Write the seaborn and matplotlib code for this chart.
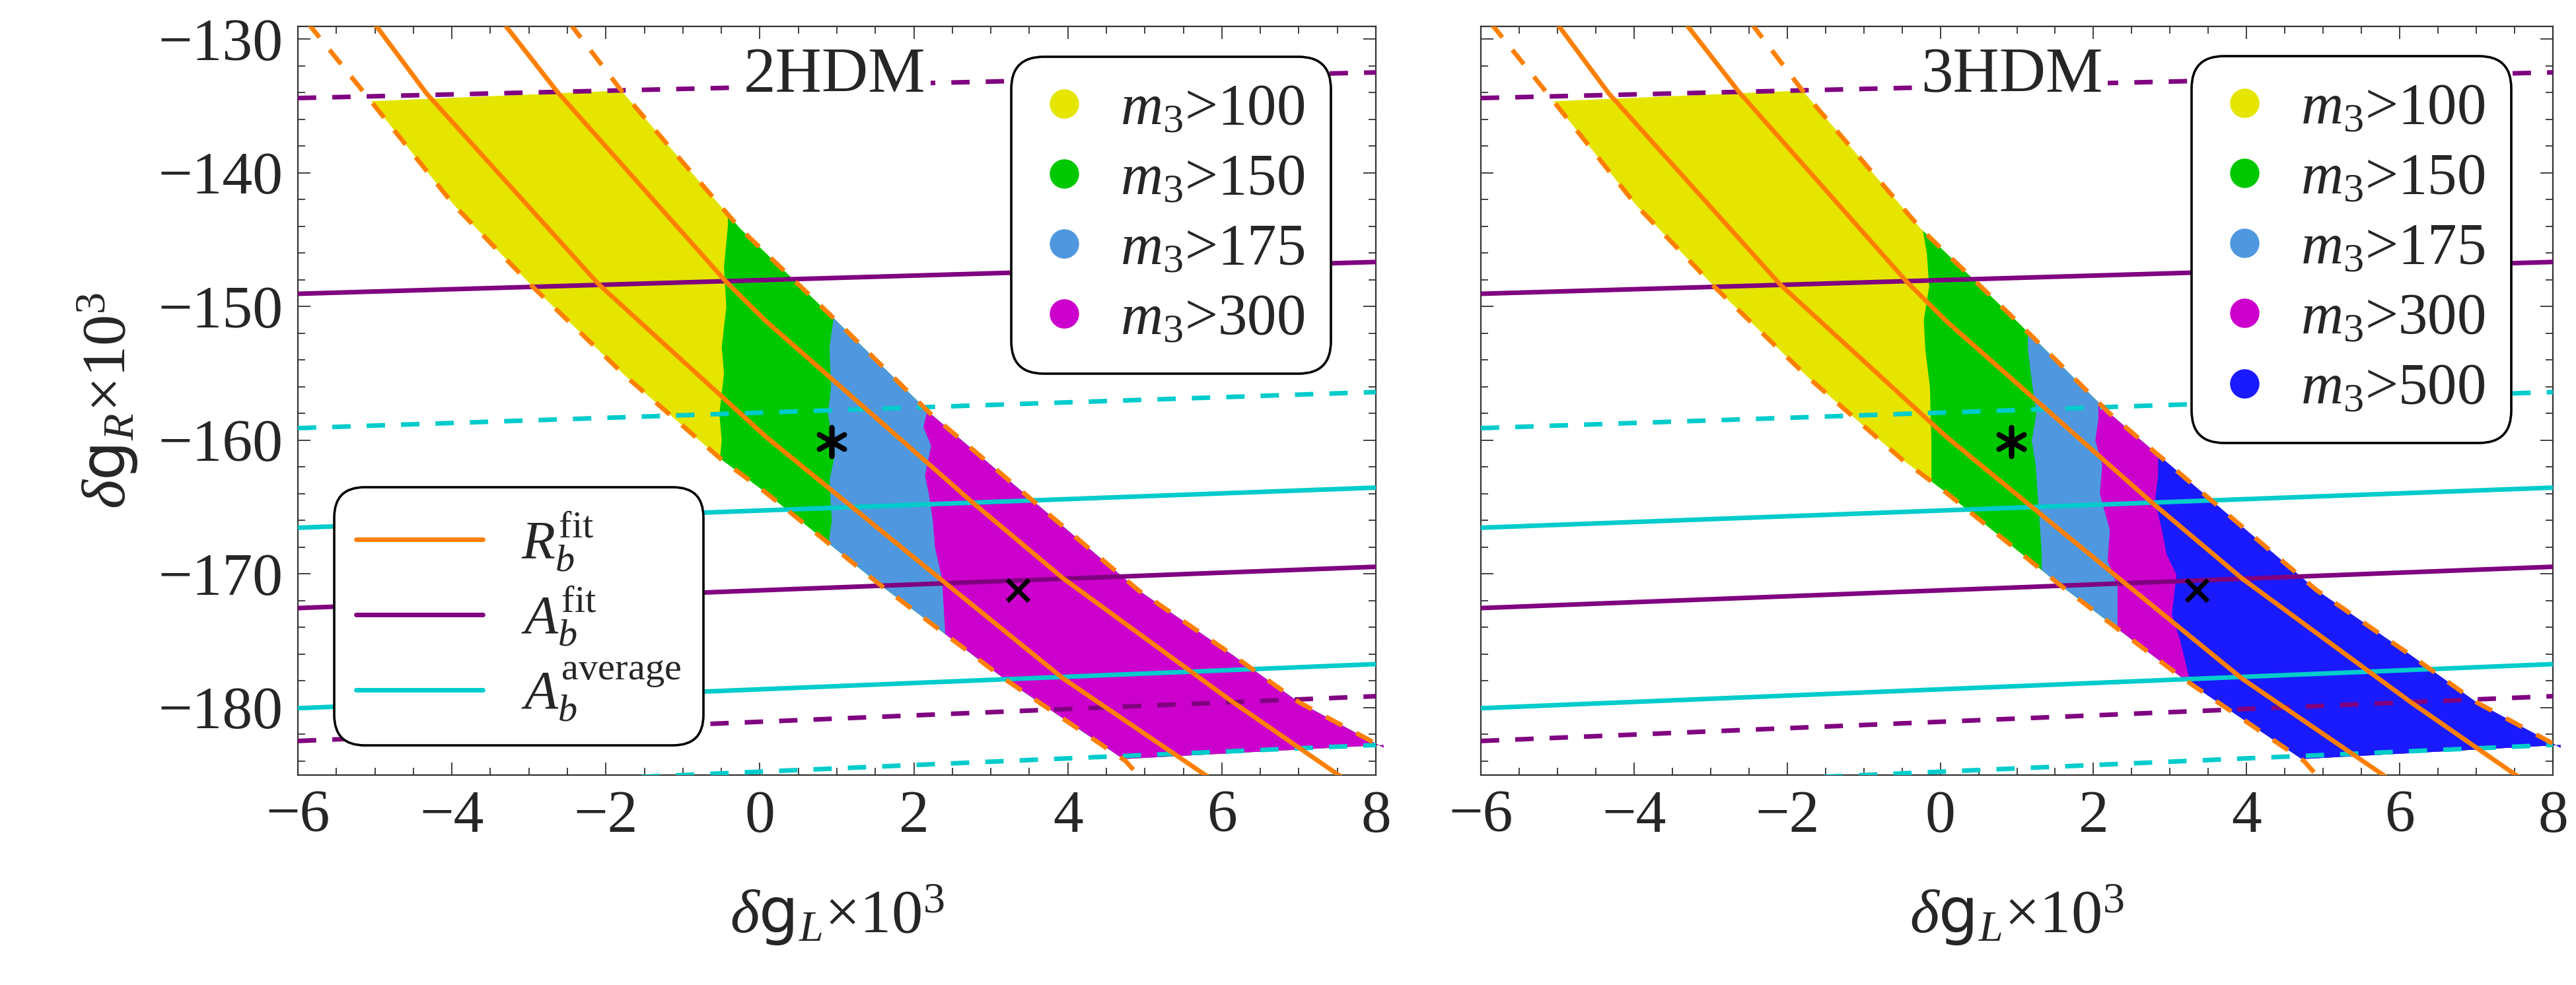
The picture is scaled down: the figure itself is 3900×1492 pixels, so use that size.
import numpy as np
import matplotlib
matplotlib.use("Agg")
import matplotlib.pyplot as plt
from matplotlib.patches import Polygon
from matplotlib.lines import Line2D
from matplotlib.ticker import MultipleLocator
import seaborn as sns

# ---------------- data ----------------
xlim = (-6, 8)
ylim = (-185.05, -129.05)

# straight constraint lines: values at x=-6 and x=8
line_x = [-6.0, 8.0]
ab_fit_solid_up = [-149.05, -146.67]
ab_fit_solid_lo = [-172.56, -169.47]
ab_fit_dash_up = [-134.41, -132.49]
ab_fit_dash_lo = [-182.5, -179.15]
ab_avg_solid_up = [-166.55, -163.55]
ab_avg_solid_lo = [-180.05, -176.75]
ab_avg_dash_up = [-159.1, -156.4]
ab_avg_dash_lo = [-186.3, -182.8]

# R_b curves
rb_dash_left_x = [-5.87, -5.05, -3.98, -2.94, -1.74, -0.50, 0.05, 1.55, 3.17, 4.75, 4.95]
rb_dash_left_y = [-128.8, -134.65, -142.37, -148.58, -155.23, -161.44, -163.8, -170.77, -177.83, -184.0, -185.3]
rb_solid_left_x = [-5.01, -4.33, -2.09, 0.08, 2.24, 3.94, 5.85]
rb_solid_left_y = [-128.8, -134.06, -148.36, -159.75, -169.9, -177.83, -185.3]
rb_solid_right_x = [-3.33, -2.63, -0.44, 0.08, 2.75, 3.94, 6.14, 7.58]
rb_solid_right_y = [-128.8, -133.95, -148.14, -151.1, -164.6, -170.34, -179.58, -185.3]
rb_dash_right_x = [-2.47, -1.80, -0.96, -0.26, 0.97, 2.21, 3.56, 4.91, 6.14, 7.0, 8.1]
rb_dash_right_y = [-128.8, -133.85, -139.49, -144.15, -150.94, -157.99, -164.6, -171.2, -176.07, -179.6, -183.0]

# allowed region outline (scan points)
band_x = [-5.05, -1.80, -0.96, -0.26, 0.97, 2.21, 3.56, 4.91, 6.14, 7.0, 8.1, 8.1, 4.72,
          3.17, 1.55, 0.05, -0.50, -1.74, -2.94, -3.98]
band_y = [-134.65, -133.85, -139.49, -144.15, -150.94, -157.99, -164.6, -171.2, -176.07, -179.6, -183.0, -182.8, -183.85,
          -177.83, -170.77, -163.8, -161.44, -155.23, -148.58, -142.37]

# m3 thresholds: left edge of each coloured sub-region (x) along y
hdm2_green_y = [-128, -144, -147, -150, -153, -155, -158, -160, -163, -166, -186]
hdm2_green_x = [-0.42, -0.42, -0.47, -0.44, -0.50, -0.47, -0.53, -0.50, -0.55, -0.50, -0.50]
hdm2_blue_y = [-128, -151, -153, -156, -158, -161, -163, -166, -168, -170, -186]
hdm2_blue_x = [0.95, 0.95, 0.90, 0.92, 0.88, 0.97, 0.90, 0.93, 0.88, 0.98, 0.98]
hdm2_mag_y = [-128, -157.8, -159, -160.4, -162.6, -164, -165.9, -168, -170.3, -174.1, -186]
hdm2_mag_x = [2.17, 2.17, 2.12, 2.22, 2.14, 2.19, 2.24, 2.27, 2.36, 2.40, 2.40]

hdm3_green_y = [-128, -143.7, -146, -148.5, -151, -153.2, -156, -160.3, -186]
hdm3_green_x = [-0.25, -0.25, -0.18, -0.15, -0.22, -0.20, -0.14, -0.12, -0.12]
hdm3_blue_y = [-128, -153.2, -156, -158.0, -160, -161.8, -165, -168.4, -186]
hdm3_blue_x = [1.14, 1.14, 1.20, 1.25, 1.19, 1.24, 1.28, 1.32, 1.32]
hdm3_mag_y = [-128, -158.4, -160, -161.8, -164, -166.7, -169, -170.9, -186]
hdm3_mag_x = [2.06, 2.06, 2.02, 2.11, 2.08, 2.21, 2.18, 2.31, 2.31]
hdm3_b500_y = [-128, -162.6, -164.5, -166.7, -168.5, -170.05, -173, -175.0, -178.3, -186]
hdm3_b500_x = [2.84, 2.84, 2.80, 2.89, 2.95, 3.08, 3.02, 3.13, 3.27, 3.27]

star_pt = (0.93, -160.1)
cross_pt = (3.35, -171.2)

labels_m3 = [r"$m_3$>100", r"$m_3$>150", r"$m_3$>175", r"$m_3$>300", r"$m_3$>500"]
labels_lines = [r"$R_b^{\mathrm{fit}}$", r"$A_b^{\mathrm{fit}}$", r"$A_b^{\mathrm{average}}$"]
xticks = [-6, -4, -2, 0, 2, 4, 6, 8]
yticks = [-180, -170, -160, -150, -140, -130]

# ---------------- style ----------------
C_YEL = "#E5E500"
C_GRN = "#00C800"
C_B175 = "#4F98E0"
C_MAG = "#CC00CC"
C_B500 = "#1A1AFF"
C_ORA = "#FF8000"
C_PUR = "#800080"
C_CYA = "#00CCCC"
LW = 5.0
DASH = (0, (4, 3.5))

sns.set_theme(style="ticks")
plt.rcParams["font.family"] = ["Liberation Serif", "DejaVu Serif"]
plt.rcParams["font.serif"] = ["Liberation Serif", "DejaVu Serif"]
plt.rcParams["mathtext.fontset"] = "custom"
plt.rcParams["mathtext.rm"] = "Liberation Serif"
plt.rcParams["mathtext.it"] = "Liberation Serif:italic"
plt.rcParams["mathtext.bf"] = "Liberation Serif:bold"
plt.rcParams["mathtext.sf"] = "DejaVu Sans"
plt.rcParams["axes.unicode_minus"] = True

W, H = 3900, 1492
fig = plt.figure(figsize=(W / 100, H / 100), dpi=100)
ax1 = fig.add_axes([451 / W, 1 - 1174 / H, (2083 - 451) / W, (1174 - 40) / H])
ax2 = fig.add_axes([2242 / W, 1 - 1174 / H, (3865 - 2242) / W, (1174 - 40) / H])

SERIF = ["Liberation Serif", "DejaVu Serif"]


def draw_panel(ax, regions):
    band = Polygon(np.column_stack([band_x, band_y]), closed=True,
                   transform=ax.transData, facecolor="none", edgecolor="none")
    ax.fill(band_x, band_y, color=C_YEL, lw=0, zorder=1)
    for by, bx, col in regions:
        coll = ax.fill_betweenx(by, bx, 9.0, color=col, lw=0, zorder=1)
        coll.set_clip_path(band)

    def ln(x, y, col, dashed):
        kw = dict(linestyle=DASH) if dashed else {}
        sns.lineplot(x=x, y=y, ax=ax, color=col, lw=LW, sort=False,
                     estimator=None, zorder=3, **kw)

    ln(line_x, ab_avg_dash_up, C_CYA, True)
    ln(line_x, ab_avg_dash_lo, C_CYA, True)
    ln(line_x, ab_avg_solid_up, C_CYA, False)
    ln(line_x, ab_avg_solid_lo, C_CYA, False)
    ln(line_x, ab_fit_dash_up, C_PUR, True)
    ln(line_x, ab_fit_dash_lo, C_PUR, True)
    ln(line_x, ab_fit_solid_up, C_PUR, False)
    ln(line_x, ab_fit_solid_lo, C_PUR, False)
    ln(rb_dash_left_x, rb_dash_left_y, C_ORA, True)
    ln(rb_dash_right_x, rb_dash_right_y, C_ORA, True)
    ln(rb_solid_left_x, rb_solid_left_y, C_ORA, False)
    ln(rb_solid_right_x, rb_solid_right_y, C_ORA, False)

    sns.scatterplot(x=[star_pt[0]], y=[star_pt[1]], ax=ax, marker=(6, 2, 0),
                    s=1000, color="black", linewidth=5.5, zorder=5)
    sns.scatterplot(x=[cross_pt[0]], y=[cross_pt[1]], ax=ax, marker="x",
                    s=550, color="black", linewidth=5, zorder=5)

    ax.set_xlim(*xlim)
    ax.set_ylim(*ylim)
    ax.set_xticks(xticks)
    ax.set_yticks(yticks)
    ax.xaxis.set_minor_locator(MultipleLocator(0.5))
    ax.yaxis.set_minor_locator(MultipleLocator(2))
    ax.tick_params(which="both", direction="in", top=True, right=True,
                   width=1.3, color="#333333", labelsize=66)
    ax.tick_params(which="major", length=14, pad=16)
    ax.tick_params(which="minor", length=8)
    for lab in ax.get_xticklabels() + ax.get_yticklabels():
        lab.set_fontfamily(SERIF)
    for s in ax.spines.values():
        s.set_visible(True)
        s.set_linewidth(1.6)
        s.set_color("#333333")
    ax.set_xlabel(r"$\delta\mathsf{g}_{L}$×10$^{3}$", fontsize=68, labelpad=42,
                  fontfamily=SERIF)


draw_panel(ax1, [(hdm2_green_y, hdm2_green_x, C_GRN),
                 (hdm2_blue_y, hdm2_blue_x, C_B175),
                 (hdm2_mag_y, hdm2_mag_x, C_MAG)])
draw_panel(ax2, [(hdm3_green_y, hdm3_green_x, C_GRN),
                 (hdm3_blue_y, hdm3_blue_x, C_B175),
                 (hdm3_mag_y, hdm3_mag_x, C_MAG),
                 (hdm3_b500_y, hdm3_b500_x, C_B500)])

ax1.set_ylabel(r"$\delta\mathsf{g}_{R}$×10$^{3}$", fontsize=68, labelpad=20,
               fontfamily=SERIF)
ax2.set_ylabel("")
ax2.tick_params(labelleft=False)

for ax, txt, x in [(ax1, "2HDM", 0.97), (ax2, "3HDM", 0.93)]:
    ax.text(x, -132.8, txt, fontsize=70, ha="center", va="center", zorder=6,
            fontfamily=SERIF,
            bbox=dict(boxstyle="square,pad=0.08", fc="white", ec="none"))


def m3_legend(ax, cols, labs, anchor):
    hs = [Line2D([], [], marker="o", ls="none", color=c, markeredgewidth=0,
                 markersize=32, label=l) for c, l in zip(cols, labs)]
    lg = ax.legend(handles=hs, loc="upper right", bbox_to_anchor=anchor,
                   bbox_transform=fig.transFigure, frameon=True, framealpha=1,
                   handlelength=0.9, handletextpad=0.5, borderpad=0.45,
                   labelspacing=0.28, borderaxespad=0,
                   prop=dict(family=SERIF, size=64))
    fr = lg.get_frame()
    fr.set_boxstyle("round", pad=0, rounding_size=0.55)
    fr.set_edgecolor("black")
    fr.set_linewidth(2.6)
    lg.set_zorder(10)
    return lg


m3_legend(ax1, [C_YEL, C_GRN, C_B175, C_MAG], labels_m3[:4], (2015 / W, 1 - 86 / H))
m3_legend(ax2, [C_YEL, C_GRN, C_B175, C_MAG, C_B500], labels_m3, (3802 / W, 1 - 85 / H))

lg1 = ax1.get_legend()
hs2 = [Line2D([], [], color=c, lw=LW, label=l) for c, l in zip([C_ORA, C_PUR, C_CYA], labels_lines)]
lg2 = ax1.legend(handles=hs2, loc="upper left", bbox_to_anchor=(506 / W, 1 - 738 / H),
                 bbox_transform=fig.transFigure, frameon=True, framealpha=1,
                 handlelength=2.3, handletextpad=0.7, borderpad=0.4,
                 labelspacing=0.2, borderaxespad=0,
                 prop=dict(family=SERIF, size=60))
fr = lg2.get_frame()
fr.set_boxstyle("round", pad=0, rounding_size=0.55)
fr.set_edgecolor("black")
fr.set_linewidth(2.6)
lg2.set_zorder(10)
ax1.add_artist(lg1)

fig.savefig("out.png", dpi=100)
